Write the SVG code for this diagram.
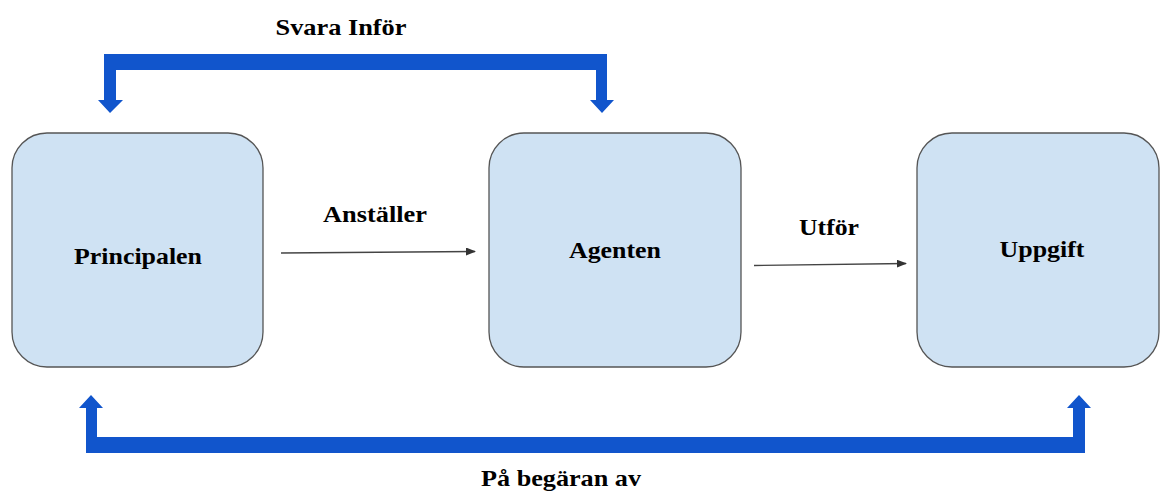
<svg xmlns="http://www.w3.org/2000/svg" width="1161" height="492" viewBox="0 0 1161 492">
<style>
.box{fill:#cfe2f3;stroke:#555;stroke-width:1.3}
.t{font-family:"Liberation Serif","Times New Roman",serif;font-weight:bold;font-size:23px;fill:#000;text-anchor:middle}
.thin{stroke:#444;stroke-width:1.3;fill:none}
.thick{fill:#1155cc}
</style>
<defs>
<marker id="ah" markerWidth="10" markerHeight="8" refX="9" refY="4" orient="auto" markerUnits="userSpaceOnUse">
<path d="M0,0 L10,4 L0,8 Z" fill="#333"/>
</marker>
</defs>
<rect width="1161" height="492" fill="#fff"/>
<g id="connectors">
<path class="thick" d="M104,54 H607 V100 H614 L602,113 L590,100 H596 V70 H116 V100 H123 L110,113 L98,100 H104 Z"/>
<path class="thick" d="M86,453 H1085 V408 H1091 L1079,395 L1067,408 H1073 V437 H97 V408 H103 L91,395 L79,408 H86 Z"/>
<line class="thin" x1="281" y1="253" x2="475" y2="251.5" marker-end="url(#ah)"/>
<line class="thin" x1="754" y1="265.5" x2="906" y2="263.5" marker-end="url(#ah)"/>
<text class="t" x="341" y="35" textLength="131" lengthAdjust="spacingAndGlyphs">Svara Inför</text>
<text class="t" x="375" y="222" textLength="104" lengthAdjust="spacingAndGlyphs">Anställer</text>
<text class="t" x="829" y="235" textLength="60" lengthAdjust="spacingAndGlyphs">Utför</text>
<text class="t" x="561" y="486" textLength="160" lengthAdjust="spacingAndGlyphs">På begäran av</text>
</g>
<g id="principalen">
<rect class="box" x="12" y="133" width="251" height="234" rx="35" ry="35"/>
<text class="t" x="138" y="264" textLength="128" lengthAdjust="spacingAndGlyphs">Principalen</text>
</g>
<g id="agenten">
<rect class="box" x="489" y="133" width="252" height="234" rx="35" ry="35"/>
<text class="t" x="615" y="258" textLength="92" lengthAdjust="spacingAndGlyphs">Agenten</text>
</g>
<g id="uppgift">
<rect class="box" x="917" y="133" width="242" height="234" rx="35" ry="35"/>
<text class="t" x="1042" y="257" textLength="85" lengthAdjust="spacingAndGlyphs">Uppgift</text>
</g>
</svg>
